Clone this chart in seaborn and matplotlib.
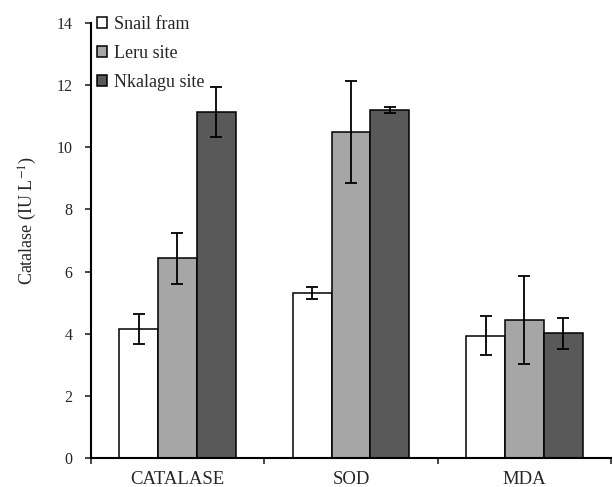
import pandas as pd
import matplotlib
matplotlib.use("Agg")
import matplotlib.pyplot as plt
import seaborn as sns

# values
enzymes = ["CATALASE", "SOD", "MDA"]
sites = ["Snail fram", "Leru site", "Nkalagu site"]
snail_mean = [4.15, 5.30, 3.93]
leru_mean = [6.42, 10.49, 4.44]
nkalagu_mean = [11.13, 11.20, 4.01]
snail_err = [0.47, 0.19, 0.63]
leru_err = [0.82, 1.63, 1.41]
nkalagu_err = [0.80, 0.09, 0.49]
colors = ["#FFFFFF", "#A6A6A6", "#595959"]

means = [snail_mean, leru_mean, nkalagu_mean]
errs = [snail_err, leru_err, nkalagu_err]

rows = []
for site, vals in zip(sites, means):
    for enz, v in zip(enzymes, vals):
        rows.append({"Enzyme": enz, "Site": site, "Value": v})
df = pd.DataFrame(rows)

sns.set_style("ticks")
plt.rcParams["font.family"] = ["Liberation Serif", "DejaVu Serif"]
plt.rcParams["mathtext.fontset"] = "stix"

fig = plt.figure(figsize=(6.13, 4.87), dpi=100)
ax = fig.add_axes([0.148, 0.0595, 0.849, 0.8935])

sns.barplot(data=df, x="Enzyme", y="Value", hue="Site", order=enzymes,
            hue_order=sites, palette=colors, width=0.67, gap=0,
            edgecolor="black", linewidth=1.1, errorbar=None, ax=ax)

# error bars on top of each bar
for cont, e in zip(ax.containers, errs):
    xs = [b.get_x() + b.get_width() / 2 for b in cont]
    hs = [b.get_height() for b in cont]
    ax.errorbar(xs, hs, yerr=e, fmt="none", ecolor="black",
                elinewidth=1.3, capsize=4, capthick=1.3, zorder=5)

ax.set_ylim(0, 14)
ax.set_yticks(range(0, 15, 2))
ax.set_xlim(-0.5, 2.5)
ax.set_xticks([0, 1, 2])
ax.set_xticklabels(enzymes)
ax.tick_params(axis="x", which="major", length=0, pad=9, labelsize=13.5)
ax.set_xticks([-0.5, 0.5, 1.5, 2.5], minor=True)
ax.tick_params(axis="x", which="minor", length=4, width=1.2)
ax.tick_params(axis="y", length=4, width=1.2, labelsize=11.5, pad=9)

ax.set_xlabel("")
ax.set_ylabel("Catalase (IU L$^{-1}$)", fontsize=13)
ax.yaxis.set_label_coords(-0.100, 0.545)

for side in ["top", "right"]:
    ax.spines[side].set_visible(False)
for side in ["left", "bottom"]:
    ax.spines[side].set_linewidth(1.5)
    ax.spines[side].set_color("black")

handles, labels = ax.get_legend_handles_labels()
ax.legend(handles, labels, loc="upper left", bbox_to_anchor=(-0.013, 1.046),
          frameon=False, fontsize=13, handlelength=0.55, handleheight=0.55,
          handletextpad=0.4, labelspacing=0.68, borderaxespad=0.3)

plt.savefig("out.png", dpi=100)
